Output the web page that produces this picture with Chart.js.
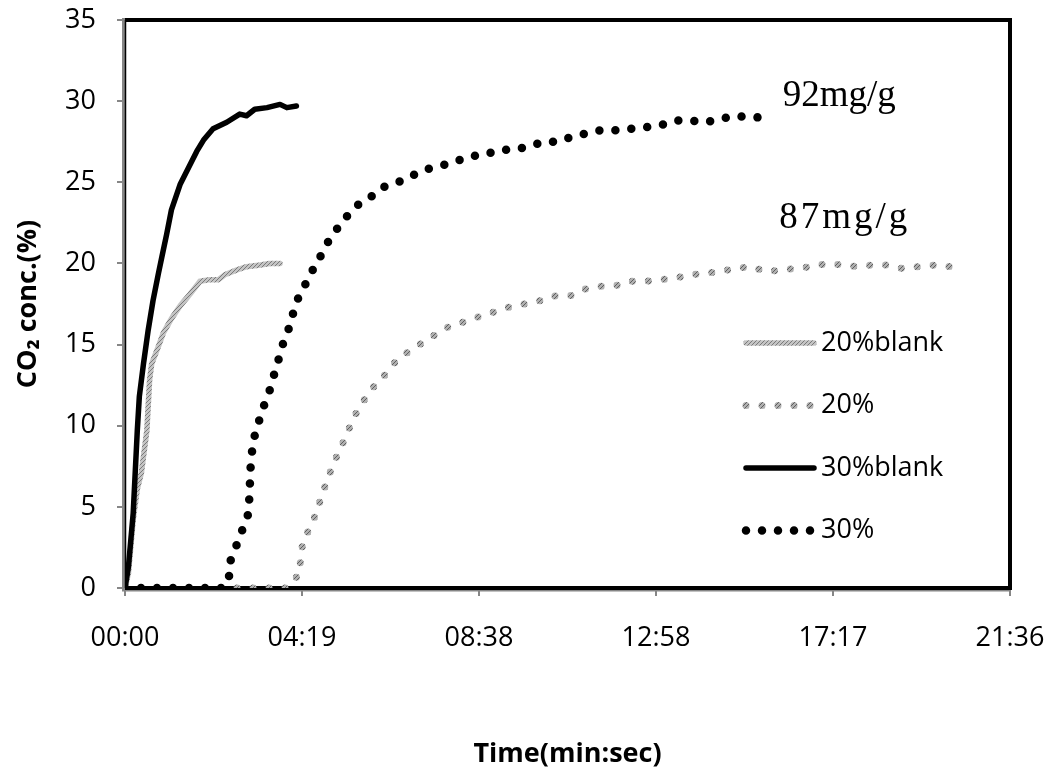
<!DOCTYPE html>
<html>
<head>
<meta charset="utf-8">
<title>CO2 breakthrough</title>
<script src="https://cdn.jsdelivr.net/npm/chart.js@4.4.1/dist/chart.umd.min.js"></script>
<style>
  html, body { margin: 0; padding: 0; background: #fff; }
  canvas { display: block; }
</style>
</head>
<body>
<canvas id="co2Chart" width="1053" height="769"></canvas>
<script>
// blank runs (time in seconds, CO2 in %)
const blank20Time = [0, 5, 12, 18, 24, 32, 36, 39, 49, 56, 68, 81, 95, 110, 124, 137, 146, 164, 178, 198, 212, 227];
const blank20Conc = [0, 0.9, 4.2, 6.1, 7.1, 9.7, 12.8, 13.8, 14.9, 15.7, 16.6, 17.4, 18.1, 18.9, 19.0, 19.0, 19.3, 19.6, 19.8, 19.9, 20.0, 20.0];

const blank30Time = [0, 5, 12, 18, 21, 27, 34, 41, 49, 54, 61, 68, 81, 93, 105, 115, 129, 149, 168, 178, 190, 208, 227, 237, 251];
const blank30Conc = [0, 1.3, 4.6, 9.7, 11.8, 13.8, 15.9, 17.7, 19.4, 20.4, 21.8, 23.3, 24.9, 25.9, 26.9, 27.6, 28.3, 28.7, 29.2, 29.1, 29.5, 29.6, 29.8, 29.6, 29.7];

// sorbent runs
const run20Time = [0, 236, 241, 255, 257, 260, 269, 279, 286, 294, 302, 311, 321, 330, 340, 352, 366, 382, 397, 416, 435, 454, 474, 496, 517, 540, 562, 584, 607, 628, 652, 672, 695, 717, 738, 761, 783, 805, 829, 851, 872, 895, 917, 939, 962, 984, 1006, 1028, 1050, 1072, 1094, 1116, 1138, 1160, 1182, 1204, 1227];
const run20Conc = [0, 0, 0.3, 0.8, 1.7, 2.7, 3.6, 4.5, 5.4, 6.4, 7.3, 8.2, 9.1, 10.0, 10.9, 11.7, 12.5, 13.2, 14.0, 14.6, 15.1, 15.6, 16.1, 16.4, 16.7, 17.0, 17.3, 17.5, 17.7, 18.0, 18.0, 18.4, 18.6, 18.6, 18.9, 18.9, 19.0, 19.1, 19.3, 19.4, 19.5, 19.7, 19.8, 19.5, 19.6, 19.7, 19.8, 20.0, 19.9, 19.8, 19.9, 19.9, 19.7, 19.8, 19.9, 19.8, 19.9];

const run30Time = [0, 145, 153, 155, 164, 172, 180, 182, 183, 184, 186, 190, 197, 204, 212, 218, 225, 231, 240, 246, 253, 264, 275, 287, 297, 310, 325, 341, 360, 378, 400, 420, 441, 462, 485, 506, 526, 548, 568, 591, 613, 635, 654, 674, 696, 718, 741, 762, 783, 805, 827, 850, 871, 894, 916, 937];
const run30Conc = [0, 0, 0.8, 1.8, 2.7, 3.6, 4.5, 5.5, 6.5, 7.5, 8.4, 9.4, 10.4, 11.3, 12.2, 13.1, 14.1, 15.0, 16.0, 16.9, 17.8, 18.7, 19.6, 20.5, 21.3, 22.1, 22.9, 23.6, 24.1, 24.7, 25.0, 25.4, 25.8, 26.0, 26.3, 26.6, 26.7, 27.0, 27.0, 27.2, 27.5, 27.5, 27.8, 28.0, 28.2, 28.2, 28.3, 28.4, 28.5, 28.8, 28.8, 28.7, 28.9, 29.1, 29.0, 29.0];

const seriesNames = ["20%blank", "20%", "30%blank", "30%"];

// uptake notes next to the curves
const noteText = ["92mg/g", "87mg/g"];
const noteTime = [1046, 1054];
const noteConc = [30.3, 22.8];

// 0 to 21:36 split in five
const xTickSeconds = [0, 259.2, 518.4, 777.6, 1036.8, 1296];

const toPoints = (times, values) => times.map((t, i) => ({ x: t, y: values[i] }));

const fmtTime = (sec) => {
  const s = Math.round(sec);
  const mm = String(Math.floor(s / 60)).padStart(2, "0");
  const ss = String(s % 60).padStart(2, "0");
  return mm + ":" + ss;
};

// speckled grey like the old office texture fills
const makeGrain = (base, speck) => {
  const c = document.createElement("canvas");
  c.width = 4;
  c.height = 4;
  const g = c.getContext("2d");
  g.fillStyle = base;
  g.fillRect(0, 0, 4, 4);
  g.fillStyle = speck;
  g.fillRect(0, 0, 1, 1);
  g.fillRect(2, 2, 1, 1);
  g.fillRect(1, 3, 1, 1);
  g.fillRect(3, 1, 1, 1);
  return g.createPattern(c, "repeat");
};

const greyLine = makeGrain("#c4c4c4", "#7a7a7a");
const greyDots = makeGrain("#b0b0b0", "#5e5e5e");

const axisFont = { family: "'Open Sans', sans-serif", size: 27 };
const titleFont = { family: "'Open Sans', sans-serif", size: 27, weight: "bold" };

const plotFrame = {
  id: "plotFrame",
  beforeDatasetsDraw(chart) {
    const { ctx, chartArea: a } = chart;
    ctx.save();
    ctx.strokeStyle = "#868686";
    ctx.lineWidth = 3;
    ctx.beginPath();
    ctx.moveTo(a.left - 1.5, a.top - 2);
    ctx.lineTo(a.left - 1.5, a.bottom + 3);
    ctx.moveTo(a.left - 3, a.bottom + 2);
    ctx.lineTo(a.right, a.bottom + 2);
    ctx.stroke();
    ctx.strokeStyle = "#000";
    ctx.lineWidth = 4;
    ctx.beginPath();
    ctx.moveTo(a.left, a.top);
    ctx.lineTo(a.right, a.top);
    ctx.lineTo(a.right, a.bottom);
    ctx.lineTo(a.left, a.bottom);
    ctx.stroke();
    ctx.lineWidth = 1.5;
    ctx.beginPath();
    ctx.moveTo(a.left + 0.5, a.top);
    ctx.lineTo(a.left + 0.5, a.bottom);
    ctx.stroke();
    ctx.restore();
  },
};

const uptakeNotes = {
  id: "uptakeNotes",
  afterDatasetsDraw(chart) {
    const { ctx } = chart;
    const xs = chart.scales.x;
    const ys = chart.scales.y;
    ctx.save();
    ctx.fillStyle = "#000";
    ctx.font = "37px 'Liberation Serif', serif";
    ctx.textAlign = "center";
    ctx.textBaseline = "middle";
    noteText.forEach((txt, i) => {
      ctx.letterSpacing = i === 1 ? "3px" : "0px";
      ctx.fillText(txt, xs.getPixelForValue(noteTime[i]), ys.getPixelForValue(noteConc[i]));
    });
    ctx.restore();
  },
};

// legend sits inside the plot, right side
const sideLegend = {
  id: "sideLegend",
  afterDraw(chart, args, opts) {
    const { ctx } = chart;
    ctx.save();
    chart.data.datasets.forEach((ds, i) => {
      const y = opts.top + i * opts.rowGap;
      ctx.strokeStyle = ds.borderColor;
      ctx.lineWidth = ds.borderWidth;
      ctx.lineCap = ds.borderCapStyle || "round";
      ctx.setLineDash(ds.borderDash || []);
      ctx.beginPath();
      ctx.moveTo(opts.left, y);
      ctx.lineTo(opts.left + opts.sampleWidth, y);
      ctx.stroke();
      ctx.setLineDash([]);
      ctx.fillStyle = "#000";
      ctx.font = axisFont.size + "px " + axisFont.family;
      ctx.textAlign = "left";
      ctx.textBaseline = "middle";
      ctx.fillText(ds.label, opts.textLeft, y);
    });
    ctx.restore();
  },
};

const config = {
  type: "line",
  data: {
    datasets: [
      {
        label: seriesNames[0],
        data: toPoints(blank20Time, blank20Conc),
        borderColor: greyLine,
        borderWidth: 5.5,
        borderCapStyle: "round",
        pointRadius: 0,
        order: 4,
      },
      {
        label: seriesNames[1],
        data: toPoints(run20Time, run20Conc),
        borderColor: greyDots,
        borderWidth: 7,
        borderDash: [0, 16],
        borderCapStyle: "round",
        pointRadius: 0,
        order: 3,
      },
      {
        label: seriesNames[2],
        data: toPoints(blank30Time, blank30Conc),
        borderColor: "#000",
        borderWidth: 5.5,
        borderCapStyle: "round",
        pointRadius: 0,
        order: 2,
      },
      {
        label: seriesNames[3],
        data: toPoints(run30Time, run30Conc),
        borderColor: "#000",
        borderWidth: 8.5,
        borderDash: [0, 16],
        borderCapStyle: "round",
        pointRadius: 0,
        order: 1,
      },
    ],
  },
  options: {
    responsive: false,
    animation: false,
    devicePixelRatio: 1,
    layout: { padding: { top: 20, right: 43, bottom: 0, left: 0 } },
    elements: { line: { tension: 0, borderJoinStyle: "round" } },
    plugins: {
      legend: { display: false },
      tooltip: { enabled: false },
      sideLegend: { left: 746, sampleWidth: 68, textLeft: 821, top: 343, rowGap: 62.5 },
    },
    scales: {
      x: {
        type: "linear",
        min: 0,
        max: 1296,
        afterFit: (scale) => {
          scale.height = 181;
          // labels may hang over the edges, the layout padding covers them
          scale.paddingLeft = 0;
          scale.paddingRight = 0;
        },
        afterBuildTicks: (scale) => {
          scale.ticks = xTickSeconds.map((v) => ({ value: v }));
        },
        ticks: {
          autoSkip: false,
          maxRotation: 0,
          padding: 26,
          color: "#000",
          font: axisFont,
          callback: (v) => fmtTime(v),
        },
        grid: { drawOnChartArea: false, tickLength: 8, color: "#868686", lineWidth: 2 },
        border: { display: false },
        title: {
          display: true,
          text: "Time(min:sec)",
          color: "#000",
          font: { ...titleFont, lineHeight: 1.05 },
          padding: { top: 0, bottom: 1 },
        },
      },
      y: {
        min: 0,
        max: 35,
        afterFit: (scale) => {
          scale.width = 125;
          scale.paddingTop = 0;
          scale.paddingBottom = 0;
        },
        ticks: { stepSize: 5, padding: 21, color: "#000", font: axisFont },
        grid: { drawOnChartArea: false, tickLength: 8, color: "#868686", lineWidth: 2 },
        border: { display: false },
        title: { display: true, text: "CO\u2082 conc.(%)", color: "#000", font: titleFont, padding: { top: 12, bottom: 0 } },
      },
    },
  },
  plugins: [plotFrame, uptakeNotes, sideLegend],
};

// eslint-disable-next-line no-undef
const co2Chart = new Chart(document.getElementById("co2Chart"), config);
</script>
</body>
</html>
